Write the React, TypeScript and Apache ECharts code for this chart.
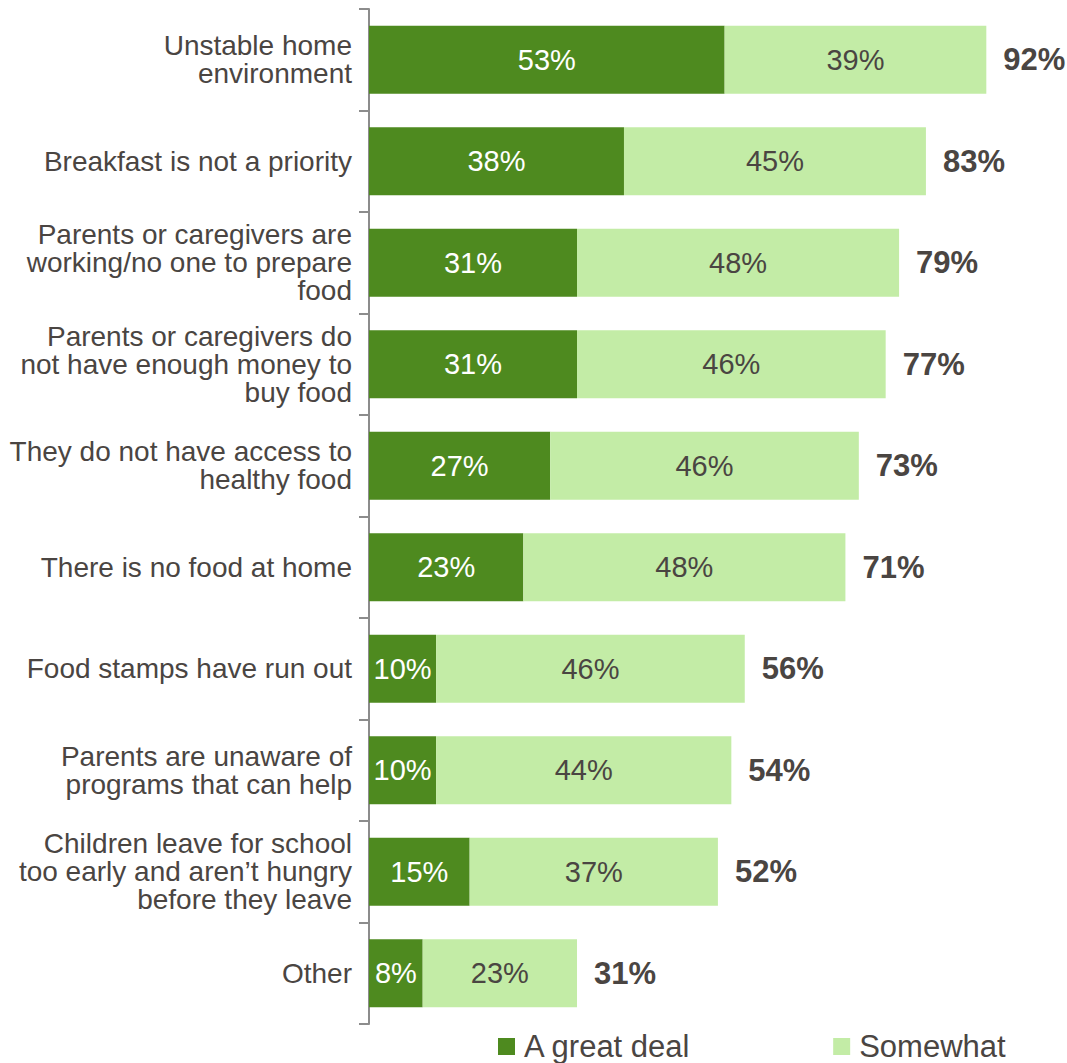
import React, { useEffect, useRef } from "react";
import * as echarts from "echarts";

const categories = [
  "Unstable home\nenvironment",
  "Breakfast is not a priority",
  "Parents or caregivers are\nworking/no one to prepare\nfood",
  "Parents or caregivers do\nnot have enough money to\nbuy food",
  "They do not have access to\nhealthy food",
  "There is no food at home",
  "Food stamps have run out",
  "Parents are unaware of\nprograms that can help",
  "Children leave for school\ntoo early and aren\u2019t hungry\nbefore they leave",
  "Other",
];
const greatDeal = [53, 38, 31, 31, 27, 23, 10, 10, 15, 8];
const somewhat = [39, 45, 48, 46, 46, 48, 46, 44, 37, 23];
const totals = [92, 83, 79, 77, 73, 71, 56, 54, 52, 31];

const FONT = "'Liberation Sans', Arial, sans-serif";
const TEXT = "#4a4542";
const DARK = "#4e8a1f";
const LIGHT = "#c3eca6";

export default function App() {
  const ref = useRef<HTMLDivElement>(null);
  useEffect(() => {
    document.body.style.margin = "0";
    const chart = echarts.init(ref.current!, null, { renderer: "svg" });
    chart.setOption({
      animation: false,
      textStyle: { fontFamily: FONT },
      grid: { left: 369, top: 9, width: 671, height: 1015, containLabel: false },
      legend: {
        left: 498,
        top: 1031,
        padding: 0,
        itemWidth: 17,
        itemHeight: 17,
        itemGap: 142,
        icon: "rect",
        data: ["A great deal", "Somewhat"],
        textStyle: {
          fontSize: 31,
          lineHeight: 31,
          color: TEXT,
          fontFamily: FONT,
          padding: [0, 0, 0, 4],
        },
      },
      xAxis: { type: "value", min: 0, max: 100, show: false },
      yAxis: {
        type: "category",
        inverse: true,
        data: categories,
        axisLine: { show: true, lineStyle: { color: "#8c8c8c", width: 2 } },
        axisTick: { show: true, length: 10, lineStyle: { color: "#8c8c8c", width: 2 } },
        axisLabel: {
          margin: 17,
          fontSize: 28,
          lineHeight: 28,
          color: TEXT,
          fontFamily: FONT,
          align: "right",
        },
      },
      series: [
        {
          name: "A great deal",
          type: "bar",
          stack: "s",
          barWidth: 68,
          data: greatDeal,
          itemStyle: { color: DARK },
          label: {
            show: true,
            position: "inside",
            formatter: "{c}%",
            color: "#fff",
            fontSize: 29,
            fontFamily: FONT,
          },
        },
        {
          name: "Somewhat",
          type: "bar",
          stack: "s",
          barWidth: 68,
          data: somewhat,
          itemStyle: { color: LIGHT },
          label: {
            show: true,
            position: "inside",
            formatter: "{c}%",
            color: TEXT,
            fontSize: 29,
            fontFamily: FONT,
          },
        },
        {
          name: "Total",
          type: "scatter",
          data: totals,
          symbolSize: 0,
          silent: true,
          itemStyle: { opacity: 1, color: "rgba(0,0,0,0)" },
          label: {
            show: true,
            position: "right",
            distance: 17,
            formatter: "{c}%",
            color: TEXT,
            opacity: 1,
            fontSize: 31,
            fontWeight: "bold",
            fontFamily: FONT,
          },
        },
      ],
    });
    return () => chart.dispose();
  }, []);
  return <div ref={ref} style={{ width: 1067, height: 1063 }} />;
}
